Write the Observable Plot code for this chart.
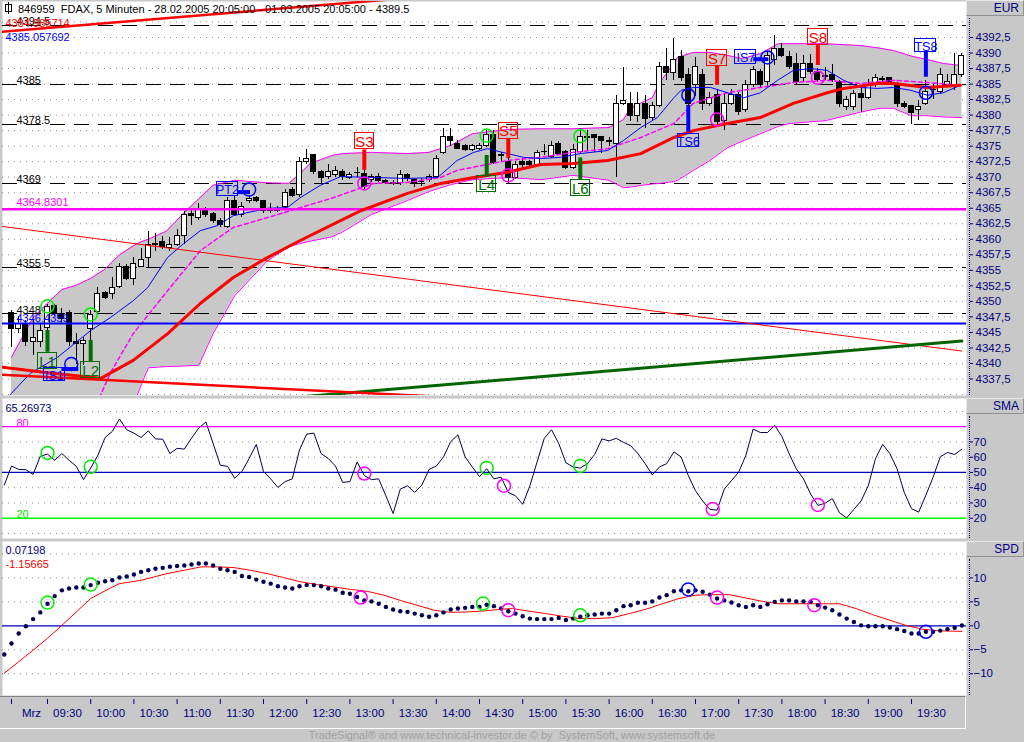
<!DOCTYPE html>
<html><head><meta charset="utf-8">
<script src="https://cdn.jsdelivr.net/npm/d3@7"></script>
<script src="https://cdn.jsdelivr.net/npm/@observablehq/plot@0.6"></script>
<style>
html,body{margin:0;padding:0;background:#c8c8c8;}
#chart{position:relative;width:1024px;height:742px;background:#c8c8c8;overflow:hidden;font-family:"Liberation Sans",Arial,sans-serif;}
#chart svg{position:absolute;left:0;overflow:visible;}
.hdr{position:absolute;left:966px;width:58px;height:16px;box-sizing:border-box;border-top:1px solid #e8e8e8;border-left:1px solid #e8e8e8;border-bottom:1px solid #909090;border-right:1px solid #909090;background:#c8c8c8;color:#000080;font-size:12px;text-align:right;padding-right:4px;line-height:14px;z-index:5;}
.vdot{position:absolute;left:969px;width:0;border-left:1px dotted #000080;z-index:5;}
#title{position:absolute;left:18px;top:3px;font-size:11px;line-height:13px;color:#000;white-space:pre;z-index:5;}
#icon{position:absolute;left:5px;top:4px;width:5px;height:6px;border:1px solid #000;z-index:5;}
#icon:before{content:"";position:absolute;left:2px;top:-3px;width:1px;height:12px;background:#000;}
#xstrip{position:absolute;left:0;top:696px;width:966px;height:33px;box-sizing:border-box;border-top:1px solid #808080;border-bottom:1px solid #fff;border-right:1px solid #fff;}
#footer{position:absolute;left:0;top:729px;width:1024px;text-align:center;font-size:11px;line-height:13px;color:#a0a0a0;white-space:pre;}
</style></head>
<body>
<div id="chart">
  <div id="xstrip"></div>
  <div id="icon"></div>
  <div id="title">846959  FDAX, 5 Minuten - 28.02.2005 20:05:00 - 01.03.2005 20:05:00 - 4389.5</div>
  <div class="hdr" style="top:0px;">EUR</div>
  <div class="hdr" style="top:398px;">SMA</div>
  <div class="hdr" style="top:541px;">SPD</div>
  <div class="vdot" style="top:18px;height:377px;"></div>
  <div class="vdot" style="top:416px;height:122px;"></div>
  <div class="vdot" style="top:559px;height:136px;"></div>
  <div id="footer">TradeSignal® and www.technical-investor.de © by  SystemSoft, www.systemsoft.de</div>
</div>
<script>
// ---------------- DATA ----------------
// 5-minute candles, bar index 0..132
const open  = [4348.2,4345.6,4346.3,4343.5,4343.5,4345.7,4349.2,4348.0,4348.1,4343.4,4343.2,4345.5,4348.3,4351.4,4351.2,4352.3,4355.5,4353.6,4355.6,4357.0,4359.1,4359.6,4358.6,4359.1,4360.6,4364.0,4363.5,4364.8,4364.0,4363.0,4362.0,4366.1,4363.9,4366.1,4366.6,4366.1,4364.5,4364.5,4365.2,4368.0,4367.1,4372.4,4373.5,4370.8,4370.0,4370.4,4370.8,4369.9,4370.6,4370.5,4369.5,4370.0,4369.4,4369.0,4369.0,4370.4,4369.6,4369.2,4369.5,4370.0,4373.9,4376.4,4375.4,4375.0,4374.4,4374.5,4375.0,4376.8,4373.5,4372.5,4369.8,4372.5,4372.5,4372.0,4374.0,4373.3,4375.4,4374.0,4371.5,4374.0,4376.3,4376.8,4376.4,4375.8,4375.4,4381.8,4381.8,4379.8,4381.8,4379.6,4381.4,4387.7,4386.8,4389.3,4386.4,4384.8,4386.4,4381.8,4383.3,4379.1,4381.8,4383.3,4380.9,4384.8,4386.9,4385.3,4388.8,4390.7,4389.3,4388.3,4385.9,4388.3,4386.9,4386.2,4386.4,4385.3,4381.3,4381.3,4383.4,4382.8,4384.8,4385.8,4385.9,4384.8,4381.8,4381.4,4380.9,4381.8,4384.0,4383.7,4384.8,4384.5,4386.4];
const high  = [4348.6,4347.5,4347.0,4347.0,4346.5,4349.5,4349.5,4348.8,4348.5,4344.8,4344.2,4348.6,4352.3,4351.6,4353.9,4356.1,4356.0,4357.1,4358.5,4361.2,4361.0,4360.5,4360.3,4361.5,4364.5,4365.0,4365.7,4365.2,4364.3,4363.3,4366.8,4367.0,4366.0,4367.0,4366.9,4366.3,4365.7,4365.3,4368.0,4368.4,4373.1,4374.4,4373.7,4371.0,4372.0,4371.7,4371.2,4370.8,4371.6,4371.3,4370.4,4370.6,4369.6,4369.5,4371.0,4370.6,4369.8,4369.8,4370.5,4373.5,4377.8,4377.8,4375.9,4375.3,4375.3,4375.5,4377.5,4377.5,4374.0,4373.2,4372.6,4373.0,4372.7,4374.3,4375.2,4375.8,4375.8,4374.3,4375.2,4377.8,4377.6,4376.9,4376.6,4376.4,4383.2,4387.7,4383.6,4383.6,4383.2,4382.0,4388.5,4390.7,4392.3,4390.4,4387.5,4389.2,4387.3,4383.7,4384.2,4383.5,4384.2,4383.6,4385.5,4387.8,4387.3,4390.2,4392.8,4391.6,4390.3,4390.0,4389.6,4389.8,4387.5,4387.6,4388.2,4385.6,4383.0,4384.0,4384.5,4385.8,4386.6,4386.2,4386.0,4385.3,4382.2,4381.6,4382.3,4385.5,4385.0,4387.5,4386.5,4389.9,4390.0];
const low   = [4342.6,4344.8,4342.8,4341.3,4342.5,4345.0,4347.5,4346.5,4342.8,4339.9,4339.7,4343.5,4347.8,4350.3,4350.3,4352.0,4353.3,4352.6,4355.4,4355.5,4358.0,4358.3,4358.0,4358.9,4359.2,4362.2,4363.0,4363.5,4362.5,4361.9,4361.8,4363.7,4363.5,4365.8,4365.9,4364.2,4364.2,4364.3,4364.8,4366.7,4366.8,4372.0,4370.5,4369.0,4369.6,4370.0,4369.5,4369.6,4370.0,4368.1,4369.2,4369.1,4368.8,4368.7,4368.7,4369.3,4368.4,4368.5,4369.2,4369.8,4373.7,4375.0,4374.4,4374.2,4374.2,4374.3,4374.8,4372.0,4372.4,4369.0,4369.6,4371.3,4371.7,4371.8,4373.5,4373.0,4373.5,4371.3,4371.3,4373.6,4374.3,4374.0,4373.8,4375.0,4370.0,4381.5,4379.0,4378.8,4377.8,4379.0,4381.2,4385.6,4385.5,4385.4,4381.2,4383.0,4380.8,4381.4,4378.5,4377.5,4381.5,4380.0,4380.5,4384.5,4384.3,4384.6,4388.0,4389.2,4387.3,4384.8,4385.3,4386.5,4385.2,4385.5,4385.3,4381.2,4380.7,4380.8,4380.5,4382.5,4384.5,4385.2,4385.0,4381.3,4381.0,4378.5,4379.2,4381.5,4382.5,4383.3,4384.5,4384.0,4386.0];
const close = [4345.6,4346.3,4343.5,4344.1,4345.3,4349.1,4348.2,4347.2,4343.4,4343.2,4343.6,4347.8,4351.2,4350.6,4352.2,4355.5,4353.6,4356.0,4356.6,4359.1,4359.3,4358.7,4359.1,4360.5,4363.9,4363.8,4364.9,4363.9,4362.9,4362.3,4366.1,4363.9,4365.2,4366.5,4366.1,4364.5,4364.6,4364.9,4367.5,4367.0,4372.5,4372.9,4370.8,4369.8,4370.8,4371.0,4370.0,4370.4,4370.7,4368.4,4370.0,4369.4,4369.0,4369.1,4370.4,4369.7,4369.0,4369.3,4370.0,4373.0,4376.4,4375.8,4374.6,4374.4,4375.0,4375.0,4376.8,4372.3,4373.4,4369.8,4372.0,4371.9,4371.9,4373.9,4374.1,4375.0,4373.8,4371.5,4374.4,4376.4,4376.4,4376.3,4375.8,4375.6,4381.8,4382.3,4379.8,4381.8,4379.3,4381.4,4387.7,4386.8,4388.8,4385.9,4381.8,4387.7,4381.8,4382.8,4378.9,4381.8,4383.3,4380.5,4384.8,4387.3,4384.8,4389.6,4390.7,4389.6,4387.7,4385.3,4388.3,4386.9,4385.7,4386.3,4385.7,4381.8,4382.4,4383.4,4382.8,4384.8,4385.9,4385.6,4385.3,4381.8,4381.3,4380.3,4381.3,4383.7,4384.1,4386.4,4385.3,4386.4,4389.5];

// Bollinger band samples [bar index, upper, lower]
const bandIdx   = [0,3,5,7,9,11,13,15,17,18,19,21.5,24,26,28,31,35.5,38.5,40,41.5,44.5,46,50,55,58,61,64,69,73.5,78,83,85,86,87.5,89,90,92,92.5,94.7,97,99.5,101.5,104,106.5,108,113,118,120.5,122.5,125,127,129.5,132];
const bandUpper = [4341.0,4347.4,4349.7,4351.9,4352.6,4353.7,4355.2,4357.5,4359.0,4359.6,4360.0,4361.3,4364.3,4366.5,4368.7,4369.5,4369.1,4369.0,4370.5,4372.2,4373.5,4373.8,4374.0,4373.8,4374.0,4375.1,4377.0,4377.7,4377.8,4377.8,4378.0,4379.3,4381.2,4382.0,4382.8,4385.2,4388.3,4389.3,4390.1,4390.1,4389.6,4389.1,4389.9,4391.5,4391.5,4391.5,4391.2,4390.8,4390.4,4389.5,4389.0,4388.3,4388.0];
const bandLower = [4326.0,4326.5,4327.0,4327.5,4328.0,4329.0,4330.0,4331.5,4333.5,4336.5,4339.3,4339.5,4339.6,4339.7,4344.8,4350.9,4356.5,4358.8,4359.3,4359.7,4360.4,4361.2,4364.0,4366.25,4367.7,4368.8,4369.6,4369.95,4369.6,4370.3,4369.5,4368.3,4368.4,4368.7,4368.9,4369.0,4369.3,4369.5,4371.1,4372.7,4374.8,4375.8,4377.0,4378.2,4378.65,4379.1,4380.5,4381.1,4381.1,4379.9,4379.9,4379.7,4379.6];

// moving averages [bar index, value]
const maBlue = [[-1.2,4333.8],[0,4335.2],[2.6,4338.4],[6.4,4341.0],[11,4345.3],[13.75,4347.4],[16.9,4350.1],[18.9,4352.2],[21.7,4357.1],[23.9,4359.3],[26.25,4361.4],[28.6,4362.2],[30.8,4363.8],[35.6,4365.0],[38.3,4365.1],[40.1,4366.7],[42.9,4368.7],[45.7,4370.1],[50.3,4369.95],[55,4369.8],[59.2,4369.95],[61.9,4372.7],[64.2,4374.0],[66.1,4374.6],[68.9,4373.8],[71.1,4373.2],[73.5,4373.0],[76.25,4373.2],[79,4373.8],[82.8,4374.3],[85,4375.9],[87.4,4378.0],[89.7,4379.6],[92,4382.8],[93,4384.0],[94.7,4384.45],[97.1,4384.45],[101.7,4382.8],[104,4383.6],[106.4,4385.6],[108.6,4387.2],[111,4387.5],[113.3,4387.2],[115.6,4385.6],[117.9,4384.45],[120.3,4384.3],[122.5,4384.45],[124.9,4384.0],[127.2,4383.2],[129.4,4383.6],[131.8,4384.8]];
const maMagenta = [[12.2,4334.5],[13.75,4338.5],[16.9,4344.8],[21.7,4351.75],[26.25,4358.2],[30.8,4361.9],[35.6,4363.5],[40.1,4365.1],[44.7,4366.7],[50.3,4369.0],[55,4369.15],[59.6,4369.95],[61.9,4371.1],[68.9,4372.7],[73.5,4373.2],[78,4374.0],[82.8,4374.6],[87.4,4376.4],[92,4378.65],[94.7,4381.9],[99.4,4383.6],[104,4384.45],[108.6,4385.25],[113.3,4385.6],[117.9,4385.1],[122.5,4385.6],[127.2,4385.25],[131.8,4384.8]];
const maRed = [[-1.2,4339.4],[5,4338.5],[12.4,4337.6],[16.9,4340.5],[21.7,4344.8],[26.25,4349.7],[30.8,4353.85],[35.6,4357.1],[40.1,4359.8],[45.7,4363.0],[48.5,4364.6],[55,4367.4],[59.6,4369.0],[64.2,4369.95],[68.9,4370.8],[73.5,4372.05],[78,4372.2],[82.8,4372.7],[87.4,4373.8],[92,4376.4],[94.7,4377.5],[99.4,4378.65],[104,4379.6],[108.6,4381.9],[113.3,4383.6],[115.6,4384.3],[120.3,4385.1],[122.5,4385.1],[127.2,4384.45],[131.8,4384.8]];

// trend lines [bar index, value]
const trendUpper = [[-1.5,4393.4],[133,4406.4]];
const trendDown  = [[-1.5,4362.1],[132,4342.0]];
const trendLower = [[-1.5,4338.2],[133,4330.35]];
const trendGreen = [[40,4334.6],[132,4343.6]];

// horizontal levels
const dashLevels = [4394.5, 4385, 4378.5, 4369, 4355.5, 4348];
const magentaLevel = 4364.8301;
const blueLevel = 4346.4359;
const valueLabels = ["4384.985714", "4385.057692"];

// signals
const sigNames  = ["L1","L2","IS1","PT2","S3","L4","S5","L6","TS6","S7","IS7","S8","TS8"];
const sigBoxIdx = [5, 11, 5.95, 30, 49, 66, 69, 79, 94, 98, 102, 112, 127];
const sigBoxVal = [4340.4, 4338.95, 4338.2, 4368.1, 4375.8, 4368.85, 4377.5, 4368.2, 4375.9, 4389.25, 4389.4, 4392.55, 4391.2];
const sigCircIdx = [5, 11, 8.3, 33, 49, 66, 69, 79, 94, 98, 105, 112, 127];
const sigCircVal = [4349.2, 4347.9, 4339.9, 4368.0, 4369.0, 4376.7, 4370.3, 4376.6, 4383.2, 4379.3, 4389.3, 4386.0, 4383.6];
const vBarName = ["L1","L2","S3","L4","S5","L6","TS6","S7","S8","TS8"];
const vBarIdx  = [5, 11, 49, 66, 69, 79, 94, 98, 112, 127];
const vBarFrom = [4345.3, 4343.7, 4374.4, 4373.5, 4376.2, 4373.1, 4381.55, 4388.0, 4391.2, 4390.1];
const vBarTo   = [4341.8, 4340.2, 4371.1, 4370.0, 4373.0, 4369.6, 4377.25, 4384.8, 4388.0, 4386.1];
const hBarFrom = [7.0, 31.4, 103.1];
const hBarTo   = [9.35, 33.2, 105.2];
const hBarVal  = [4339.1, 4367.6, 4389.0];

// price axis
const priceTicks = [4337.5,4340,4342.5,4345,4347.5,4350,4352.5,4355,4357.5,4360,4362.5,4365,4367.5,4370,4372.5,4375,4377.5,4380,4382.5,4385,4387.5,4390,4392.5];
const priceGrid = [4335, ...priceTicks, 4395];

// oscillator (SMA panel), bars -1..132
const oscStart = -1;
const oscVals = [41.8,54.2,52,51.8,48.7,60.7,62,58,62.4,58,54,45.3,52.9,61.3,72.9,76.9,85.1,78,75.8,72.9,77.3,72,71.8,62.4,65.8,65.3,72.4,79.1,83.1,69.1,54.7,54,46.2,50.7,59.1,68.4,50.7,45.8,40.2,44,45.8,64.7,75.1,75.8,62.4,59.1,54.2,43.5,44,56.9,48,45.3,45.8,34.7,23.1,39.1,41.3,36.9,41.8,52,54.2,60.2,70.2,74.7,60.2,53.6,47.3,52.4,45.8,46.9,36.9,34.7,29.1,41.3,56.9,72.4,78,69.1,56.4,53.6,52.9,55.8,61.8,72,70.7,72.4,69.8,67.5,62.4,55.8,48.4,53.6,55.8,63.5,60.2,48,38,31.3,25.8,25.3,39.1,44.7,50.2,61.3,78.4,76.2,76.2,80.9,73.6,62.4,52.4,45.8,35.8,28.4,29.8,32.9,23.5,20.2,25.8,31.3,41.3,59.1,68.4,62.4,52.4,36.9,26.2,24,35.1,46.9,60.2,63.1,61.8,65.3];
const oscTicks = [20,30,40,50,60,70];
const oscGrid = [10,30,40,60,70,90];
const oscCircName = ["L1","L2","S3","L4","S5","L6","S7","S8"];
const oscCircIdx  = [5, 11, 49, 66, 68.4, 79, 97.4, 112];
const oscCircVal  = [62.8, 53.7, 49.3, 53, 41.3, 54.3, 26, 28.7];

// SPD panel: dots per bar (-1..132) and signal line samples
const spdStart = -1;
const spdVals = [-6.0,-3.7,-1.6,-0.1,1.4,2.8,4.6,6.2,7.4,7.8,8.0,8.0,8.5,9.0,9.3,9.5,10.1,10.3,10.7,11.25,11.6,11.9,12.1,12.35,12.5,12.6,12.8,13.0,13.0,12.6,11.9,11.6,11.25,10.4,10.2,9.65,9.2,8.8,8.25,8.0,7.8,8.25,8.5,8.5,8.25,7.8,7.55,6.9,6.7,6.0,5.3,5.1,4.6,3.95,3.4,3.05,2.9,2.55,2.2,1.9,2.2,2.8,3.4,3.6,3.75,3.95,3.95,4.4,4.1,3.6,3.05,2.55,2.0,1.5,1.4,1.4,1.4,1.65,1.2,1.5,1.9,2.2,2.35,2.55,2.55,3.25,4.1,4.3,4.8,4.8,5.1,5.9,6.4,7.2,7.4,7.2,7.4,7.1,6.5,5.7,5.3,4.85,4.3,3.95,4.3,3.95,4.5,5.0,5.3,5.3,5.1,5.1,5.0,4.3,3.8,3.25,2.35,1.5,0.8,0.1,-0.1,-0.1,-0.1,-0.35,-0.7,-1.1,-1.6,-1.6,-1.25,-1.25,-1.0,-0.7,-0.4,0.07];
const spdSignal = [[-1,-9.9],[1,-7.5],[3,-5.1],[5,-2.6],[7,0.1],[9,2.9],[11,5.7],[13.75,7.9],[15,8.8],[18,9.5],[21.6,10.9],[24,11.6],[26.3,12.3],[28.6,12.3],[30.9,12.15],[33.2,11.6],[35.5,10.9],[37.8,10.06],[40.1,9.2],[42.5,8.6],[44.8,8.1],[47.1,7.6],[49.4,7.2],[51.7,6.4],[54,5.3],[56.3,4.3],[58.7,3.25],[61,2.8],[63.3,2.9],[65.6,3.1],[67.9,3.45],[69.6,3.6],[71.9,3.05],[74.2,2.55],[76.5,2.0],[78.9,1.5],[81.2,1.5],[83.5,1.7],[85.8,2.55],[88.1,3.45],[90.4,4.6],[92.7,5.7],[95,6.4],[97.4,6.5],[99.7,6.5],[102,5.8],[104.3,5.1],[106.6,4.6],[108.9,4.6],[111.2,4.6],[113.5,4.6],[115,4.6],[117.3,3.6],[119.6,2.35],[121.9,1.2],[124.2,0.1],[126.5,-0.7],[128.8,-1.05],[132,-1.16]];
const spdTicks = [-10,-5,0,5,10];
const spdGrid = [-10,-5,5,10,15];
const spdCircName = ["L1","L2","S3","L4","S5","L6","TS6","S7","S8","TS8"];
const spdCircIdx  = [5, 11, 48.5, 65.5, 69, 79, 94, 98, 111.5, 127];
const spdCircVal  = [4.85, 8.6, 5.9, 4.65, 3.25, 2.2, 7.6, 5.9, 4.3, -1.25];

// time axis
const xTickIdx = [0,5,11,17,23,29,35,41,47,53,59,65,71,77,83,89,95,101,107,113,119,125];
const xTickLabels = ["Mrz","09:30","10:00","10:30","11:00","11:30","12:00","12:30","13:00","13:30","14:00","14:30","15:00","15:30","16:00","16:30","17:00","17:30","18:00","18:30","19:00","19:30"];

// ---------------- DRAWING ----------------
const NAVY = "#000080";
const X_DOMAIN = [-1.25, 132.64];
const FONT = "Liberation Sans, Arial, sans-serif";
const baseStyle = {background: "transparent", fontFamily: FONT, fontSize: "11px", overflow: "visible"};
const sigColor = n => n.startsWith("L") ? "#006e00" : (n.startsWith("S") ? "#ff0000" : "#0000ff");
const circColor = n => n.startsWith("L") ? "#00ee00" : (n.startsWith("S") ? "#ff00ff" : "#0000ff");
const fmtComma = d => String(d).replace(".", ",");

const candles = open.map((o, i) => ({i, o, h: high[i], l: low[i], c: close[i]}));
const band = bandIdx.map((i, k) => ({i, up: bandUpper[k], lo: bandLower[k]}));
const sigs = sigNames.map((n, k) => ({n, i: sigBoxIdx[k], v: sigBoxVal[k], ci: sigCircIdx[k], cv: sigCircVal[k]}));
const vbars = vBarName.map((n, k) => ({n, i: vBarIdx[k], a: vBarFrom[k], b: vBarTo[k]}));
const hbars = hBarVal.map((v, k) => ({v, a: hBarFrom[k], b: hBarTo[k]}));
const pt = {x: d => d[0], y: d => d[1]};

const chart = document.getElementById("chart");
function place(svg, top) { svg.style.top = top + "px"; chart.appendChild(svg); }

// ---- price panel ----
const p1 = Plot.plot({
  width: 1024, height: 394, marginLeft: 2, marginRight: 58, marginTop: 0, marginBottom: 0,
  x: {domain: X_DOMAIN, axis: null, label: null},
  y: {domain: [4334.84, 4398.30], label: null},
  style: baseStyle,
  marks: [
    Plot.frame({fill: "white", stroke: "none"}),
    Plot.ruleY(priceGrid, {stroke: "#8c8c8c", strokeDasharray: "1,5"}),
    Plot.areaY(band, {x: "i", y1: "lo", y2: "up", fill: "#c8c8c8", clip: true}),
    Plot.ruleY(dashLevels, {stroke: "black", strokeDasharray: "15,9", shapeRendering: "crispEdges"}),
    Plot.line(band, {x: "i", y: "up", stroke: "#ff00ff", strokeWidth: 1, clip: true}),
    Plot.line(band, {x: "i", y: "lo", stroke: "#ff00ff", strokeWidth: 1, clip: true}),
    Plot.ruleX(candles, {x: "i", y1: "l", y2: "h", stroke: "black", shapeRendering: "crispEdges"}),
    Plot.rect(candles.filter(d => d.c >= d.o), {x1: d => d.i - 0.36, x2: d => d.i + 0.36, y1: "o", y2: "c", fill: "white", stroke: "black", shapeRendering: "crispEdges"}),
    Plot.rect(candles.filter(d => d.c < d.o), {x1: d => d.i - 0.36, x2: d => d.i + 0.36, y1: "o", y2: "c", fill: "black", stroke: "black", shapeRendering: "crispEdges"}),
    Plot.line(maMagenta, {...pt, stroke: "#ff00ff", strokeDasharray: "4,3", clip: true}),
    Plot.line(maBlue, {...pt, stroke: "#0000ff", strokeWidth: 1, clip: true}),
    Plot.ruleY([magentaLevel], {stroke: "#ff00ff", strokeWidth: 2.5}),
    Plot.ruleY([blueLevel], {stroke: "#0000ff", strokeWidth: 2}),
    Plot.line(trendDown, {...pt, stroke: "#ff0000", strokeWidth: 1, clip: true}),
    Plot.line(trendGreen, {...pt, stroke: "#006400", strokeWidth: 3, clip: true}),
    Plot.line(trendLower, {...pt, stroke: "#ff0000", strokeWidth: 2.5, clip: true}),
    Plot.line(maRed, {...pt, stroke: "#ff0000", strokeWidth: 3, clip: true}),
    Plot.line(trendUpper, {...pt, stroke: "#ff0000", strokeWidth: 2.5, clip: true}),
    // signal bars
    Plot.ruleX(vbars, {x: "i", y1: "a", y2: "b", stroke: d => sigColor(d.n), strokeWidth: 4}),
    Plot.ruleY(hbars, {y: "v", x1: "a", x2: "b", stroke: "#0000ff", strokeWidth: 4}),
    // signal circles
    Plot.dot(sigs, {x: "ci", y: "cv", r: 6.5, stroke: d => circColor(d.n), fill: "none"}),
    // signal boxes
    Plot.rect(sigs, {
      x1: d => d.i - (d.n.length === 2 ? 1.35 : 1.45), x2: d => d.i + (d.n.length === 2 ? 1.35 : 1.45),
      y1: d => d.v - (d.n.length === 2 ? 1.3 : 1.1), y2: d => d.v + (d.n.length === 2 ? 1.3 : 1.1),
      fill: "none", stroke: d => sigColor(d.n), shapeRendering: "crispEdges"}),
    Plot.text(sigs.filter(d => d.n.length === 2), {x: "i", y: "v", text: "n", fill: d => sigColor(d.n), fontSize: 15, dy: 1}),
    Plot.text(sigs.filter(d => d.n.length === 3), {x: "i", y: "v", text: "n", fill: d => sigColor(d.n), fontSize: 12.5, dy: 1}),
    // labels
    Plot.text(dashLevels, {y: d => d, text: d => String(d), frameAnchor: "left", dx: 14, textAnchor: "start", lineAnchor: "bottom", fill: "black"}),
    Plot.text([magentaLevel], {y: d => d, text: d => String(d), frameAnchor: "left", dx: 14, textAnchor: "start", lineAnchor: "bottom", dy: -3, fill: "#ff00ff"}),
    Plot.text([blueLevel], {y: d => d, text: d => String(d), frameAnchor: "left", dx: 14, textAnchor: "start", lineAnchor: "bottom", dy: -2, fill: "#0000ff"}),
    Plot.text([valueLabels[0]], {text: d => d, frameAnchor: "top-left", dx: 3, dy: 22, textAnchor: "start", lineAnchor: "middle", fill: "#ff0000"}),
    Plot.text([valueLabels[1]], {text: d => d, frameAnchor: "top-left", dx: 3, dy: 36, textAnchor: "start", lineAnchor: "middle", fill: "#0000ff"}),
    Plot.axisY({anchor: "right", ticks: priceTicks, tickFormat: fmtComma, tickSize: 3, tickPadding: 3, dx: 3, color: NAVY, fontSize: 11.5, label: null})
  ]
});
place(p1, 1);

// ---- SMA panel ----
const osc = oscVals.map((v, k) => ({i: k + oscStart, v}));
const oscC = oscCircName.map((n, k) => ({n, i: oscCircIdx[k], v: oscCircVal[k]}));
const p2 = Plot.plot({
  width: 1024, height: 140, marginLeft: 2, marginRight: 58, marginTop: 0, marginBottom: 0,
  x: {domain: X_DOMAIN, axis: null, label: null},
  y: {domain: [6.7, 98.5], label: null},
  style: baseStyle,
  marks: [
    Plot.frame({fill: "white", stroke: "none"}),
    Plot.ruleY(oscGrid, {stroke: "#8c8c8c", strokeDasharray: "1,5"}),
    Plot.ruleY([80], {stroke: "#ff00ff", strokeWidth: 1.2}),
    Plot.ruleY([50], {stroke: "#0000c0", strokeWidth: 1.2}),
    Plot.ruleY([20], {stroke: "#00ff00", strokeWidth: 1.5}),
    Plot.line(osc, {x: "i", y: "v", stroke: "#000050", strokeWidth: 1, clip: true}),
    Plot.dot(oscC, {x: "i", y: "v", r: 6.5, stroke: d => circColor(d.n), fill: "none"}),
    Plot.text(["65.26973"], {text: d => d, frameAnchor: "top-left", dx: 3, dy: 10, textAnchor: "start", lineAnchor: "middle", fill: NAVY}),
    Plot.text([80], {y: d => d, text: d => String(d), frameAnchor: "left", dx: 14, textAnchor: "start", lineAnchor: "bottom", fill: "#ff00ff"}),
    Plot.text([20], {y: d => d, text: d => String(d), frameAnchor: "left", dx: 14, textAnchor: "start", lineAnchor: "bottom", fill: "#00dd00"}),
    Plot.axisY({anchor: "right", ticks: oscTicks, tickSize: 3, tickPadding: 1, dx: 3, color: NAVY, fontSize: 11.5, label: null})
  ]
});
place(p2, 398);

// ---- SPD panel + time axis ----
const spd = spdVals.map((v, k) => ({i: k + spdStart, v}));
const spdC = spdCircName.map((n, k) => ({n, i: spdCircIdx[k], v: spdCircVal[k]}));
const p3 = Plot.plot({
  width: 1024, height: 201, marginLeft: 2, marginRight: 58, marginTop: 0, marginBottom: 47,
  x: {domain: X_DOMAIN, label: null},
  y: {domain: [-14.55, 17.6], label: null},
  style: baseStyle,
  marks: [
    Plot.frame({fill: "white", stroke: "none"}),
    Plot.ruleY(spdGrid, {stroke: "#8c8c8c", strokeDasharray: "1,5"}),
    Plot.ruleY([0], {stroke: "#0000c0", strokeWidth: 1.2}),
    Plot.line(spdSignal, {...pt, stroke: "#ff0000", strokeWidth: 1, clip: true}),
    Plot.dot(spd, {x: "i", y: "v", r: 2.2, fill: "#000050", stroke: "none", clip: true}),
    Plot.dot(spdC, {x: "i", y: "v", r: 6.5, stroke: d => circColor(d.n), fill: "none"}),
    Plot.text(["0.07198"], {text: d => d, frameAnchor: "top-left", dx: 3, dy: 9, textAnchor: "start", lineAnchor: "middle", fill: NAVY}),
    Plot.text(["-1.15665"], {text: d => d, frameAnchor: "top-left", dx: 3, dy: 23, textAnchor: "start", lineAnchor: "middle", fill: "#ff0000"}),
    Plot.axisY({anchor: "right", ticks: spdTicks, tickSize: 3, tickPadding: 1, dx: 3, color: NAVY, fontSize: 11.5, label: null}),
    Plot.axisX({anchor: "bottom", ticks: xTickIdx, tickSize: 5, tickFormat: () => "", dy: 4, color: NAVY, label: null}),
    Plot.text(xTickIdx, {x: d => d, text: (d, k) => xTickLabels[k], frameAnchor: "bottom", dx: 20, dy: 18, lineAnchor: "middle", fill: NAVY, fontSize: 11.5})
  ]
});
place(p3, 541);
</script>
</body></html>
